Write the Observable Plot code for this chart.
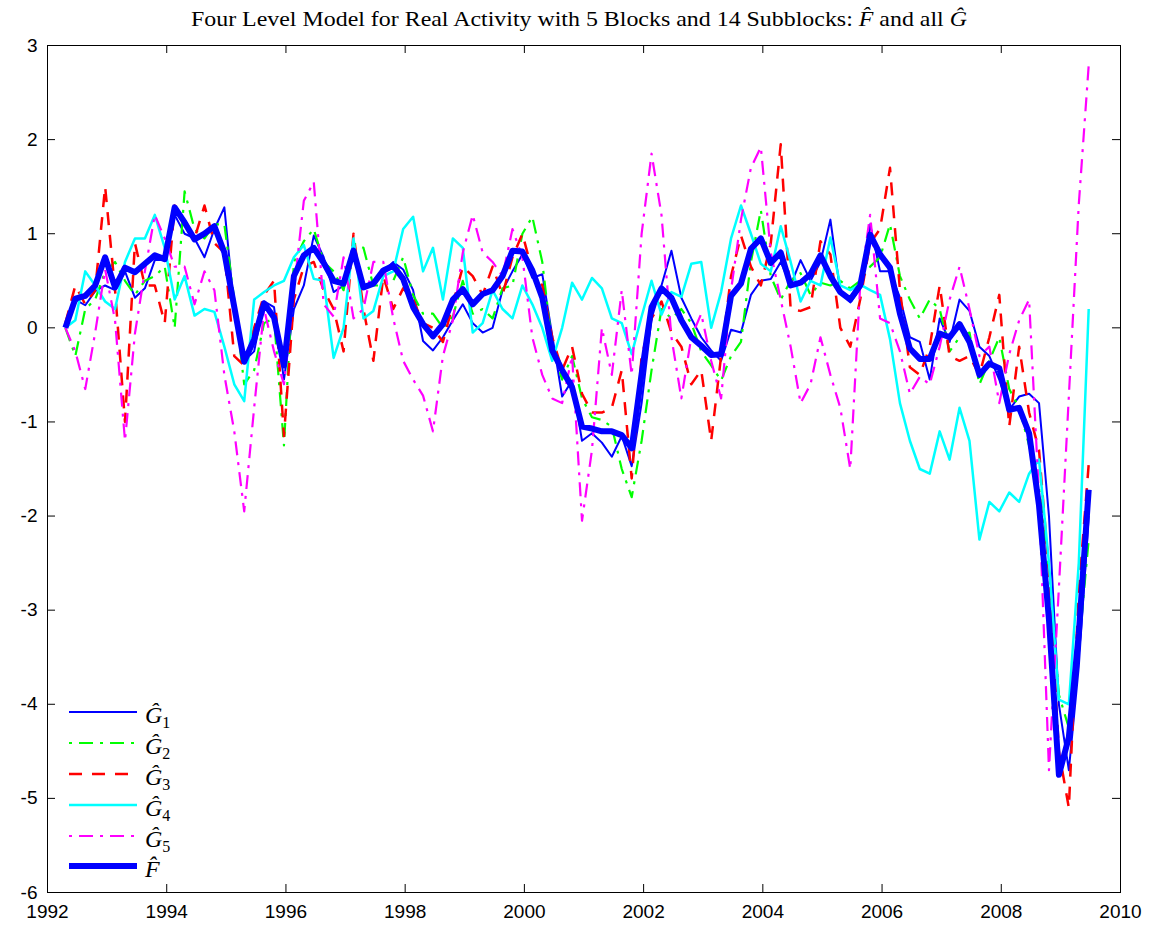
<!DOCTYPE html>
<html>
<head>
<meta charset="utf-8">
<script src="https://cdn.jsdelivr.net/npm/d3@7"></script>
<script src="https://cdn.jsdelivr.net/npm/@observablehq/plot@0.6"></script>
<style>
html, body { margin: 0; padding: 0; background: #fff; }
#chart svg { display: block; }
</style>
</head>
<body>
<div id="chart"></div>
<script>
// ---- Data (bimonthly samples) ----
const G1 = [0.0, 0.3, 0.24, 0.39, 0.45, 0.4, 0.6, 0.32, 0.42, 0.72,
  0.72, 1.2, 1.0, 0.95, 0.75, 1.05, 1.28, 0.2, -0.35, -0.25,
  0.28, 0.22, -0.55, 0.2, 0.45, 0.98, 0.75, 0.38, 0.45, 0.9,
  0.42, 0.5, 0.6, 0.7, 0.62, 0.4, -0.14, -0.24, -0.1, 0.08,
  0.25, 0.05, -0.05, 0.0, 0.4, 0.6, 0.78, 0.53, 0.57, -0.08,
  -0.73, -0.56, -1.2, -1.12, -1.22, -1.37, -1.15, -1.47, -0.8, 0.1,
  0.45, 0.82, 0.32, 0.1, -0.1, -0.24, -0.35, -0.02, -0.05, 0.35,
  0.5, 0.52, 0.7, 0.45, 0.72, 0.5, 0.7, 1.15, 0.38, 0.27,
  0.42, 1.1, 0.6, 0.6, 0.32, -0.1, -0.15, -0.55, 0.1, -0.15,
  0.3, 0.18, -0.2, -0.3, -0.55, -0.87, -0.73, -0.7, -0.8, -2.0,
  -4.0, -4.7, -3.6, -2.0];

const G2 = [0.0, -0.3, 0.2, 0.3, 0.6, 0.7, 0.5, 0.35, 0.5, 0.55,
  0.65, 0.0, 1.45, 1.05, 0.95, 1.1, 1.1, 0.3, -0.6, -0.45,
  0.05, 0.1, -1.25, 0.7, 0.92, 1.05, 0.7, 0.6, 0.4, 0.9,
  0.85, 0.45, 0.45, 0.5, 0.75, 0.35, 0.15, 0.15, 0.0, 0.12,
  0.5, 0.15, 0.2, 0.1, 0.42, 0.45, 1.0, 1.18, 0.7, -0.2,
  -0.55, -0.3, -0.75, -0.95, -0.98, -1.05, -1.5, -1.8, -1.2, -0.45,
  0.2, 0.1, 0.2, 0.05, -0.25, -0.4, -0.56, -0.3, -0.15, 0.7,
  1.25, 0.55, 0.3, 0.5, 0.58, 0.35, 0.48, 0.45, 0.5, 0.42,
  0.5, 0.65, 0.75, 1.1, 0.55, 0.3, 0.1, 0.3, 0.2, -0.25,
  -0.1, -0.05, -0.6, -0.35, -0.1, -0.65, -0.85, -1.25, -1.7, -2.6,
  -3.9, -4.25, -3.4, -2.25];

const G3 = [0.05, 0.45, 0.25, 0.4, 1.5, 0.4, -1.0, 0.9, 0.45, 0.45,
  0.05, 1.3, 1.15, 0.95, 1.3, 0.9, 0.8, -0.3, -0.4, 0.0,
  0.35, 0.5, -1.15, 0.3, 0.65, 0.7, 0.4, 0.2, -0.25, 1.0,
  0.2, -0.35, 0.55, 0.2, 0.42, 0.3, 0.05, 0.0, -0.15, 0.25,
  0.65, 0.55, 0.35, 0.65, 0.35, 0.75, 1.0, 0.6, 0.45, -0.1,
  -0.45, -0.2, -0.7, -0.9, -0.9, -0.85, -0.45, -1.6, -0.3, 0.1,
  0.28, -0.05, -0.2, -0.6, -0.45, -1.2, -0.3, 0.55, 0.98, 0.65,
  0.45, 0.9, 1.95, 0.2, 0.18, 0.22, 0.92, 0.78, 0.0, -0.2,
  0.3, 0.9, 1.05, 1.7, 0.4, -0.42, -0.5, -0.2, 0.45, -0.3,
  -0.35, -0.3, -0.5, -0.1, 0.35, -1.05, -0.2, -0.9, -1.3, -2.6,
  -4.5, -5.1, -2.8, -1.45];

const G4 = [0.0, 0.08, 0.6, 0.45, 0.28, 0.2, 0.7, 0.95, 0.95, 1.2,
  0.85, 0.3, 0.55, 0.13, 0.2, 0.17, -0.2, -0.6, -0.78, 0.3,
  0.38, 0.45, 0.5, 0.75, 0.88, 0.52, 0.5, -0.32, 0.0, 0.95,
  0.1, 0.18, 0.55, 0.6, 1.05, 1.18, 0.6, 0.85, 0.3, 0.95,
  0.85, -0.05, 0.05, 0.4, 0.2, 0.1, 0.45, 0.25, 0.0, -0.35,
  0.0, 0.48, 0.3, 0.53, 0.42, 0.1, 0.05, -0.28, 0.12, 0.5,
  0.14, 0.38, 0.33, 0.68, 0.7, 0.0, 0.38, 0.95, 1.3, 1.0,
  0.68, 0.6, 1.08, 0.7, 0.28, 0.5, 0.45, 0.96, 0.45, 0.4,
  0.46, 0.4, 0.35, -0.12, -0.8, -1.2, -1.5, -1.55, -1.1, -1.4,
  -0.85, -1.2, -2.25, -1.85, -1.95, -1.75, -1.85, -1.55, -1.4, -2.5,
  -3.95, -4.0, -2.5, 0.2];

const G5 = [0.0, -0.25, -0.65, -0.05, 0.62, 0.08, -1.2, -0.06, 0.6, 1.2,
  0.95, 0.65, 0.65, 0.25, 0.6, 0.4, -0.5, -1.1, -1.95, -0.85,
  0.2, -0.25, -0.6, 0.4, 1.35, 1.55, 0.25, 0.12, 0.75, 0.1,
  0.2, 0.7, 0.7, 0.1, -0.35, -0.55, -0.72, -1.1, -0.3, 0.08,
  0.8, 1.2, 0.8, 0.7, 0.55, 1.05, 0.75, -0.1, -0.5, -0.75,
  -0.8, -0.3, -2.05, -1.3, 0.0, -0.5, 0.4, -0.5, 1.0, 1.85,
  1.2, -0.1, -0.75, -0.1, 0.15, -0.35, -0.75, 0.4, 1.15, 1.7,
  1.92, 0.8, 0.3, -0.2, -0.8, -0.6, -0.1, -0.5, -0.85, -1.5,
  0.45, 1.2, 0.1, 0.05, -0.25, -0.7, -0.52, -0.6, -0.2, 0.3,
  0.65, 0.2, -0.3, -0.2, -0.8, -0.28, 0.08, 0.3, -1.8, -4.7,
  -2.76, -0.73, 1.31, 2.79];

const F = [0.0, 0.31, 0.34, 0.45, 0.75, 0.43, 0.64, 0.59, 0.68, 0.77,
  0.73, 1.28, 1.12, 0.94, 1.0, 1.08, 0.8, 0.22, -0.36, -0.12,
  0.26, 0.11, -0.4, 0.55, 0.77, 0.85, 0.69, 0.5, 0.47, 0.82,
  0.43, 0.47, 0.61, 0.66, 0.52, 0.22, 0.04, -0.09, 0.04, 0.3,
  0.41, 0.25, 0.36, 0.4, 0.55, 0.82, 0.81, 0.61, 0.32, -0.24,
  -0.45, -0.63, -1.05, -1.07, -1.1, -1.1, -1.14, -1.28, -0.49, 0.22,
  0.42, 0.32, 0.08, -0.1, -0.19, -0.29, -0.28, 0.34, 0.47, 0.84,
  0.95, 0.69, 0.8, 0.45, 0.48, 0.57, 0.77, 0.55, 0.38, 0.3,
  0.45, 0.99, 0.78, 0.64, 0.15, -0.22, -0.33, -0.33, -0.06, -0.1,
  0.04, -0.15, -0.5, -0.38, -0.43, -0.87, -0.85, -1.12, -1.89, -3.1,
  -4.75, -4.35, -3.25, -1.72];

// sample dates: every two months from 1992.3
const startYear = 1992.3;
const dates = F.map((_, i) => startYear + i / 6);

const xTicks = [1992, 1994, 1996, 1998, 2000, 2002, 2004, 2006, 2008, 2010];
const yTicks = [-6, -5, -4, -3, -2, -1, 0, 1, 2, 3];

const legendLabels = [["Ĝ", "1"], ["Ĝ", "2"], ["Ĝ", "3"], ["Ĝ", "4"], ["Ĝ", "5"], ["F\u0302", ""]];

// ---- styles ----
const series = [
  {values: G1, stroke: "#0000ff", width: 2,   dash: null},
  {values: G2, stroke: "#00ff00", width: 2.2, dash: "14,7,3,7"},
  {values: G3, stroke: "#ff0000", width: 2.5, dash: "13,10"},
  {values: G4, stroke: "#00ffff", width: 2.5, dash: null},
  {values: G5, stroke: "#ff00ff", width: 2.2, dash: "14,7,3,7"},
  {values: F,  stroke: "#0000ff", width: 6,   dash: null}
];

const W = 1154, H = 930, mL = 47, mR = 34, mT = 45, mB = 38;
const yearsPerPx = (2010 - 1992) / (W - mL - mR);
const unitsPerPx = (3 - (-6)) / (H - mT - mB);
const tickLen = 8;

const lineMarks = series.map(s =>
  Plot.line(s.values.map((v, i) => ({t: dates[i], v})), {
    x: "t", y: "v", stroke: s.stroke, strokeWidth: s.width,
    strokeDasharray: s.dash, strokeLinejoin: "round", strokeLinecap: "butt"
  })
);

const chart = Plot.plot({
  width: W, height: H,
  marginLeft: mL, marginRight: mR, marginTop: mT, marginBottom: mB,
  x: {domain: [1992, 2010], label: null},
  y: {domain: [-6, 3], label: null},
  style: {fontSize: "19px", fontFamily: "'Liberation Sans', Arial, sans-serif", background: "white", color: "black", overflow: "visible"},
  marks: [
    ...lineMarks,
    Plot.frame({stroke: "black", strokeWidth: 1}),
    Plot.ruleX(xTicks, {x: d => d, y1: -6, y2: -6 + tickLen * unitsPerPx, stroke: "black"}),
    Plot.ruleX(xTicks, {x: d => d, y1: 3, y2: 3 - tickLen * unitsPerPx, stroke: "black"}),
    Plot.ruleY(yTicks, {y: d => d, x1: 1992, x2: 1992 + tickLen * yearsPerPx, stroke: "black"}),
    Plot.ruleY(yTicks, {y: d => d, x1: 2010, x2: 2010 - tickLen * yearsPerPx, stroke: "black"}),
    Plot.axisX(xTicks, {anchor: "bottom", tickSize: 0, tickPadding: 12, tickFormat: d => String(d)}),
    Plot.axisY(yTicks, {anchor: "left", tickSize: 0, tickPadding: 10, tickFormat: d => String(d)})
  ]
});

document.getElementById("chart").appendChild(chart);

// ---- title & legend ----
const svg = d3.select(chart);
const title = svg.append("text")
  .attr("x", 579).attr("y", 26)
  .attr("text-anchor", "middle")
  .attr("font-family", "'Liberation Serif', 'DejaVu Serif', serif")
  .attr("font-size", 22)
  .attr("textLength", 776)
  .attr("lengthAdjust", "spacingAndGlyphs")
  .attr("fill", "black");
title.append("tspan").text("Four Level Model for Real Activity with 5 Blocks and 14 Subblocks: ");
title.append("tspan").attr("font-style", "italic").text("F\u0302");
title.append("tspan").text(" and all ");
title.append("tspan").attr("font-style", "italic").text("Ĝ");

const rowY = [712, 743, 774, 805, 836, 866];
const lg = svg.append("g");
series.forEach((s, k) => {
  lg.append("line")
    .attr("x1", 69).attr("x2", 137)
    .attr("y1", rowY[k]).attr("y2", rowY[k])
    .attr("stroke", s.stroke).attr("stroke-width", s.width)
    .attr("stroke-dasharray", s.dash)
    .attr("stroke-dashoffset", s.dash && s.dash.split(",").length === 4 ? 21 : 0);
  const t = lg.append("text")
    .attr("x", 145).attr("y", rowY[k] + 11)
    .attr("text-anchor", "start")
    .attr("font-family", "'Liberation Serif', 'DejaVu Serif', serif")
    .attr("font-size", 24).attr("fill", "black");
  t.append("tspan").attr("font-style", "italic").text(legendLabels[k][0]);
  if (legendLabels[k][1]) t.append("tspan").attr("font-size", 16).attr("dy", 5).text(legendLabels[k][1]);
});
</script>
</body>
</html>
